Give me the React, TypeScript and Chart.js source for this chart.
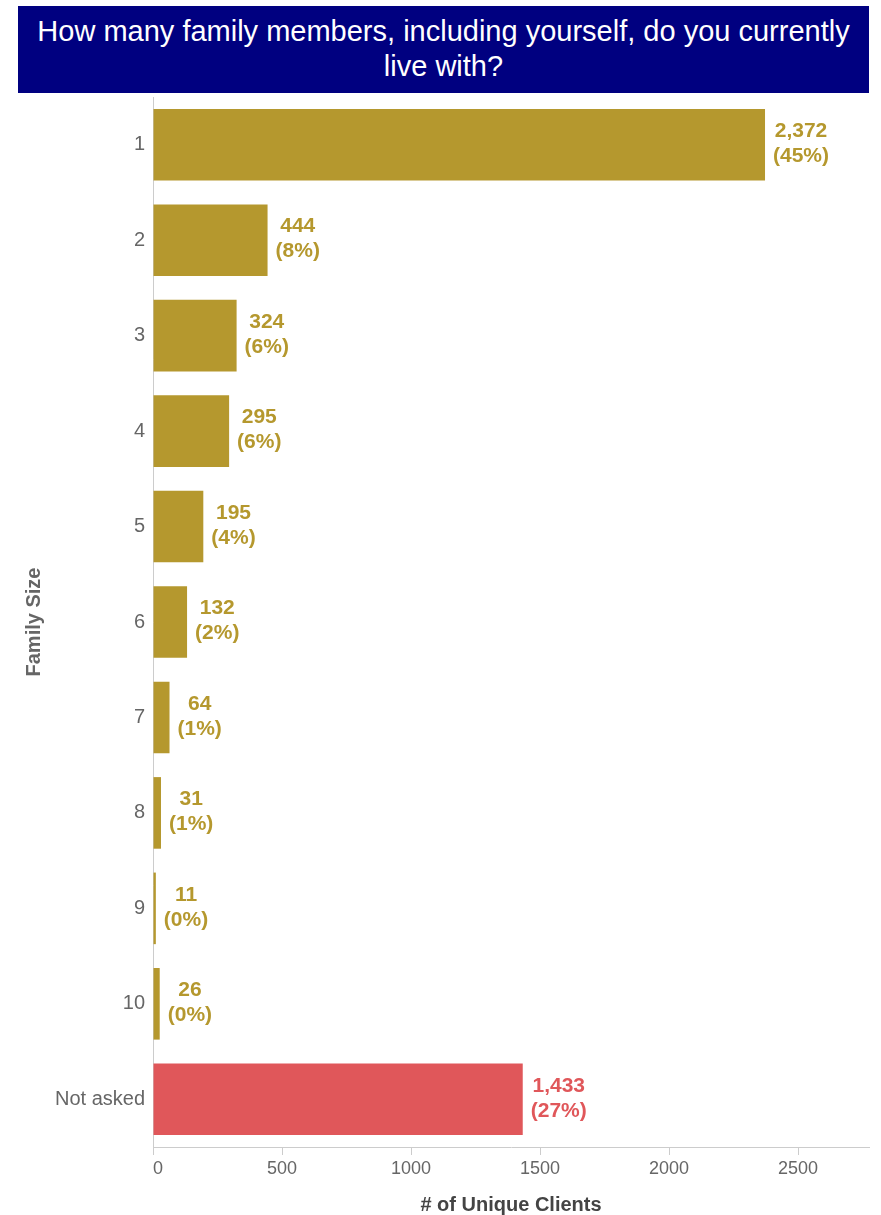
import React, { useEffect, useRef } from 'react';
import { Chart, registerables } from 'chart.js';

Chart.register(...registerables);

const titleLines = ['How many family members, including yourself, do you currently', 'live with?'];
const categories = ['1', '2', '3', '4', '5', '6', '7', '8', '9', '10', 'Not asked'];
const clientCounts = [2372, 444, 324, 295, 195, 132, 64, 31, 11, 26, 1433];
const goldColor = '#B5982E';
const redColor = '#E0575A';
const barColors = [goldColor, goldColor, goldColor, goldColor, goldColor, goldColor, goldColor, goldColor, goldColor, goldColor, redColor];
const xTickValues = [0, 500, 1000, 1500, 2000, 2500];
const xMax = 2775;
const xAxisTitle = '# of Unique Clients';
const yAxisTitle = 'Family Size';

const FONT = '"Liberation Sans", Arial, Helvetica, sans-serif';

const valueLabelPlugin = {
  id: 'valueLabels',
  afterDatasetsDraw(chart: any) {
    const ctx = chart.ctx;
    const meta = chart.getDatasetMeta(0);
    const total = clientCounts.reduce((a, b) => a + b, 0);
    ctx.save();
    ctx.font = `bold 21px ${FONT}`;
    ctx.textBaseline = 'middle';
    ctx.textAlign = 'center';
    meta.data.forEach((bar: any, i: number) => {
      const v = clientCounts[i];
      const l1 = v.toLocaleString('en-US');
      const l2 = `(${Math.round((v / total) * 100)}%)`;
      const w = Math.max(ctx.measureText(l1).width, ctx.measureText(l2).width);
      const cx = bar.x + 8 + w / 2;
      ctx.fillStyle = barColors[i];
      ctx.fillText(l1, cx, bar.y - 13.5);
      ctx.fillText(l2, cx, bar.y + 11.5);
    });
    ctx.restore();
  },
};

export default function App() {
  const canvasRef = useRef<HTMLCanvasElement | null>(null);

  useEffect(() => {
    const canvas = canvasRef.current;
    if (!canvas) return;
    const chart = new Chart(canvas, {
      type: 'bar',
      data: {
        labels: categories,
        datasets: [
          {
            data: clientCounts,
            backgroundColor: barColors,
            borderWidth: 0,
            barPercentage: 0.75,
            categoryPercentage: 1,
          },
        ],
      },
      options: {
        indexAxis: 'y',
        responsive: false,
        animation: false,
        devicePixelRatio: 1,
        layout: { padding: { top: 97, right: 12, bottom: 0, left: 0 } },
        plugins: {
          legend: { display: false },
          tooltip: { enabled: false },
          title: { display: false },
        },
        scales: {
          x: {
            type: 'linear',
            position: 'bottom',
            min: 0,
            max: xMax,
            afterFit: (s: any) => {
              s.height = 68;
            },
            afterBuildTicks: (s: any) => {
              s.ticks = [...xTickValues, xMax].map((v) => ({ value: v }));
            },
            grid: {
              display: true,
              drawOnChartArea: false,
              drawTicks: true,
              tickLength: 8,
              tickColor: (c: any) => (c.tick && c.tick.value === xMax ? 'rgba(0,0,0,0)' : '#cccccc'),
            },
            border: { display: true, color: '#cccccc' },
            ticks: {
              align: 'inner',
              padding: 3,
              color: '#666666',
              font: { size: 18, family: FONT },
              callback: (value: any) => (xTickValues.includes(Number(value)) ? String(value) : ''),
            },
            title: {
              display: true,
              text: xAxisTitle,
              color: '#444444',
              font: { size: 20, weight: 'bold', family: FONT, lineHeight: 1.0 },
              padding: { top: 0, bottom: 0 },
            },
          },
          y: {
            afterFit: (s: any) => {
              s.width = 153;
            },
            grid: { display: false },
            border: { display: true, color: '#cccccc' },
            ticks: {
              padding: 0,
              color: '#666666',
              font: { size: 20, family: FONT },
            },
            title: {
              display: true,
              text: yAxisTitle,
              color: '#666666',
              font: { size: 20, weight: 'bold', family: FONT },
              padding: { top: 22, bottom: 0 },
            },
          },
        },
      } as any,
      plugins: [valueLabelPlugin],
    });
    return () => chart.destroy();
  }, []);

  return (
    <div style={{ position: 'absolute', left: 0, top: 0, width: 881, height: 1215, background: '#ffffff' }}>
      <canvas ref={canvasRef} width={881} height={1215} style={{ position: 'absolute', left: 0, top: 0 }} />
      <div
        style={{
          position: 'absolute',
          left: 18,
          top: 6,
          width: 851,
          height: 87,
          boxSizing: 'border-box',
          paddingTop: 8,
          background: '#000080',
          color: '#ffffff',
          fontFamily: FONT,
          fontSize: 29,
          lineHeight: '35px',
          textAlign: 'center',
        }}
      >
        {titleLines.map((t, i) => (
          <span key={i} style={{ display: 'block', whiteSpace: 'nowrap' }}>
            {t}
          </span>
        ))}
      </div>
    </div>
  );
}
